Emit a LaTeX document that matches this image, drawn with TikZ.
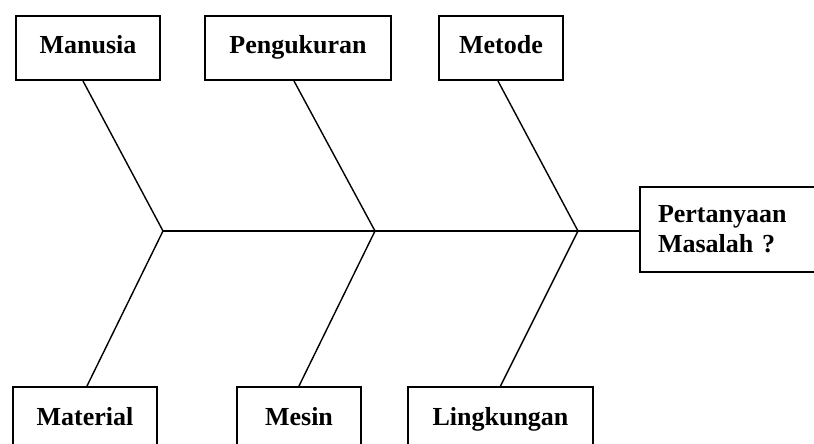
\documentclass[tikz,border=0pt]{standalone}
\usepackage{fontspec}
\setmainfont{Liberation Serif}
\begin{document}
\begin{tikzpicture}[x=1pt,y=-1pt]
\tikzset{
  cause/.style={draw, line width=2pt, font=\bfseries\fontsize{26}{30}\selectfont,
    inner sep=0pt, anchor=north west, minimum height=64pt, text height=18pt, text depth=6pt},
  bone/.style={line width=1.4pt}
}
\useasboundingbox (0,0) rectangle (814,444);
\clip (0,0) rectangle (814,444);
% top boxes
\node[cause, minimum width=144pt] (man) at (15,15) {Manusia};
\node[cause, minimum width=186pt] (pen) at (204,15) {Pengukuran};
\node[cause, minimum width=124pt] (met) at (438,15) {Metode};
% bottom boxes
\node[cause, minimum width=144pt] (mat) at (12,386) {Material};
\node[cause, minimum width=124pt] (mes) at (236,386) {Mesin};
\node[cause, minimum width=185pt] (lin) at (407,386) {Lingkungan};
% effect
\node[draw, line width=2pt, anchor=north west, inner ysep=0pt, minimum height=85pt,
  text width=150pt, align=left, inner xsep=18pt,
  font=\bfseries\fontsize{26}{30}\selectfont] (pq) at (639,186) {Pertanyaan\\Masalah ?};
% joints
\coordinate (j1) at (163,231);
\coordinate (j2) at (375,231);
\coordinate (j3) at (578,231);
% spine
\draw[bone] (j1) -- (j1 -| pq.west);
% bones
\draw[bone] ([xshift=-5pt]man.south) -- (j1);
\draw[bone] ([xshift=-4pt]pen.south) -- (j2);
\draw[bone] ([xshift=-3pt]met.south) -- (j3);
\draw[bone] ([xshift=2pt]mat.north) -- (j1);
\draw[bone] (mes.north) -- (j2);
\draw[bone] (lin.north) -- (j3);
\end{tikzpicture}
\end{document}
